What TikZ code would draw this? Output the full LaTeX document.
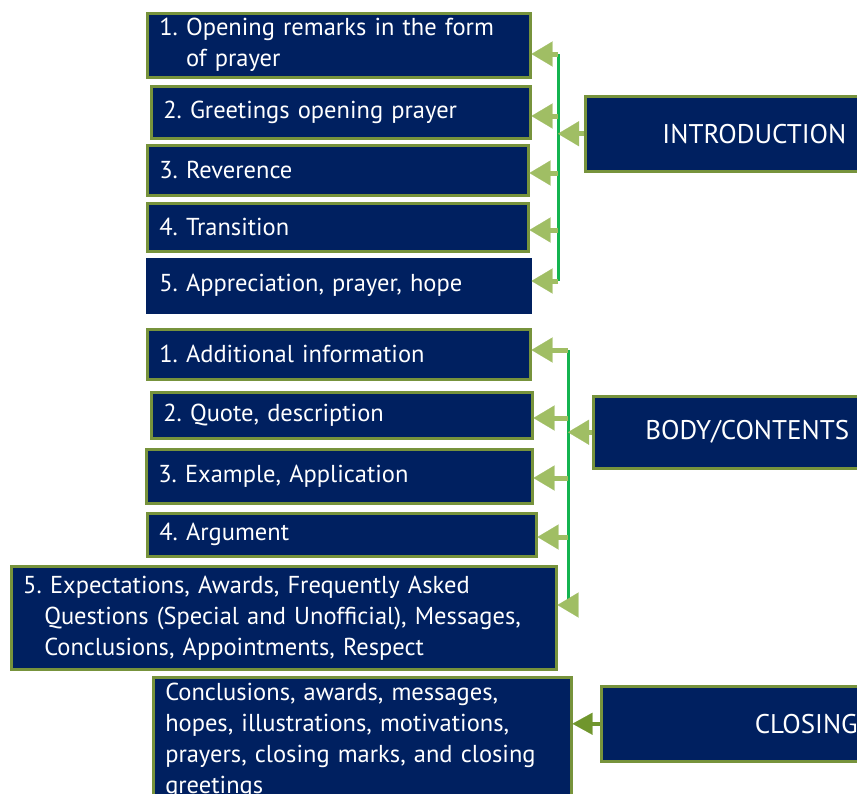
\documentclass[tikz,border=0pt]{standalone}
\usepackage{fontspec}
\setmainfont{PT Sans}
\usetikzlibrary{arrows.meta}
\definecolor{navy}{RGB}{0,32,96}
\definecolor{olivebd}{RGB}{119,147,60}
\definecolor{arrowgr}{RGB}{160,190,100}
\definecolor{linegr}{RGB}{20,180,80}
\definecolor{darkarr}{RGB}{112,150,45}
\frenchspacing
\hyphenpenalty=10000
\begin{document}
\begin{tikzpicture}[x=1pt,y=1pt,
  itembox/.style={draw=olivebd, line width=2.5pt, fill=navy, text=white, anchor=north west,
    inner xsep=12pt, inner ysep=0pt, align=left, font=\fontsize{24.5}{31}\selectfont},
  plainbox/.style={itembox, draw=navy},
  catbox/.style={itembox, font=\fontsize{27}{34}\selectfont},
  branch/.style={draw=linegr, line width=3pt},
  fatarrow/.style={draw=arrowgr, line width=5pt,
    -{Triangle[length=21pt,width=25pt,line width=0.1pt,fill=arrowgr]}},
  closearrow/.style={draw=darkarr, line width=4pt,
    -{Triangle[length=20pt,width=22pt,line width=0.1pt,fill=darkarr]}}
]
\useasboundingbox (0,0) rectangle (857,-793);
\clip (0,0) rectangle (857,-793);
\fill[white] (0,0) rectangle (857,-793);

% Introduction items
\node[itembox, text width=359pt, minimum height=64pt] (i1) at (146,-12)
  {1. Opening remarks in the form\\\phantom{1.\ }of prayer};
\node[itembox, text width=355pt, minimum height=52pt] (i2) at (150,-85) {2. Greetings opening prayer};
\node[itembox, text width=357pt, minimum height=50pt] (i3) at (146,-144) {3. Reverence};
\node[itembox, text width=357pt, minimum height=48pt] (i4) at (146,-202) {4. Transition};
\node[plainbox, text width=359pt, minimum height=53pt] (i5) at (146,-258) {5. Appreciation, prayer, hope};
\node[catbox, text width=249pt, minimum height=75pt, align=right] (intro) at (584,-95) {INTRODUCTION};

% Body items
\node[itembox, text width=359pt, minimum height=50pt] (b1) at (146,-328) {1. Additional information};
\node[itembox, text width=357pt, minimum height=46pt] (b2) at (150,-391) {2. Quote, description};
\node[itembox, text width=362pt, minimum height=54pt] (b3) at (145,-448) {3. Example, Application};
\node[itembox, text width=365pt, minimum height=43pt] (b4) at (146,-512) {4. Argument};
\node[itembox, text width=521pt, minimum height=103pt] (b5) at (10,-565)
  {5. Expectations, Awards, Frequently Asked\\\hspace*{21pt}Questions (Special and Unofficial), Messages,\\\hspace*{21pt}Conclusions, Appointments, Respect};
\node[catbox, text width=284pt, minimum height=72pt, align=center] (body) at (592,-395) {BODY/CONTENTS};

% Closing
\node[itembox, text width=394pt, inner ysep=6pt] (c1) at (152,-676)
  {Conclusions, awards, messages,\\hopes, illustrations, motivations,\\prayers, closing marks, and closing\\greetings};
\node[catbox, text width=386pt, minimum height=75pt, align=center] (closing) at (600,-685) {CLOSING};

% branch lines
\coordinate (ji1) at (558,-54);
\coordinate (ji2) at (558,-116);
\coordinate (ji3) at (558,-173);
\coordinate (ji4) at (558,-230);
\coordinate (ji5) at (558,-281);
\draw[branch] (ji1) -- (ji5);
\coordinate (jb1) at (568,-350);
\coordinate (jb2) at (568,-418);
\coordinate (jb3) at (568,-478);
\coordinate (jb4) at (568,-537);
\coordinate (jb5) at (568,-605);
\draw[branch] (jb1) -- (jb5);

% arrows
\foreach \j/\b in {ji1/i1,ji2/i2,ji3/i3,ji4/i4,ji5/i5,jb1/b1,jb2/b2,jb3/b3,jb4/b4,jb5/b5}
  \draw[fatarrow] (\j) -- (\j -| \b.east);
\draw[fatarrow] (intro.west) -- (intro.west -| ji1);
\draw[fatarrow] (body.west) -- (body.west -| jb1);
\draw[closearrow] (closing.west) -- (closing.west -| c1.east);
\end{tikzpicture}
\end{document}
